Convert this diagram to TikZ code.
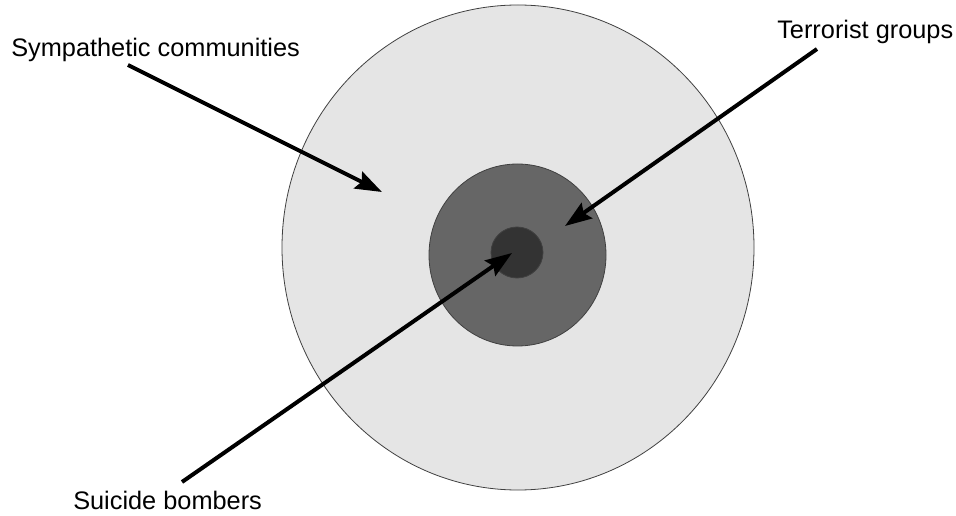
\documentclass[tikz,border=0pt]{standalone}
\usepackage{fontspec}
\setmainfont{Liberation Sans}
\usetikzlibrary{positioning,shapes.geometric,arrows.meta}
\def\px{0.75pt}
\tikzstyle{ring}=[draw=black!75,line width=0.6pt,ellipse,inner sep=0pt]
\tikzstyle{caption}=[anchor=base west,inner sep=0pt,font=\fontsize{19pt}{23pt}\selectfont]
\tikzstyle{pointer}=[-{Stealth[length=20pt,width=14pt,inset=3pt]},line width=3pt]
\newcommand{\newRing}[5]{\node[ring,fill=#3,minimum width=#4*\px,minimum height=#5*\px](#1) at #2 {};}
\newcommand{\newPointer}[2]{\draw[pointer] (#1) -- (#2);}

\begin{document}
\begin{tikzpicture}[x=\px,y=-\px]
    \useasboundingbox (0,0) rectangle (956,516);
    \newRing{outer}{(518,247.5)}{black!10}{472}{485}
    \newRing{middle}{(517.5,255)}{black!60}{177}{182}
    \newRing{inner}{(517,252.5)}{black!80}{52}{51}
    \node[caption] (symp) at (11,57) {Sympathetic communities};
    \node[caption] (terr) at (777,39) {Terrorist groups};
    \node[caption] (bomb) at (73,509) {Suicide bombers};
    \coordinate (sympfrom) at (128,65);
    \coordinate (sympto) at (382,192);
    \coordinate (terrfrom) at (817,49);
    \coordinate (terrto) at (565,226);
    \coordinate (bombfrom) at (182,482);
    \coordinate (bombto) at (512,253);
    \newPointer{sympfrom}{sympto}
    \newPointer{terrfrom}{terrto}
    \newPointer{bombfrom}{bombto}
  \end{tikzpicture}
\end{document}
